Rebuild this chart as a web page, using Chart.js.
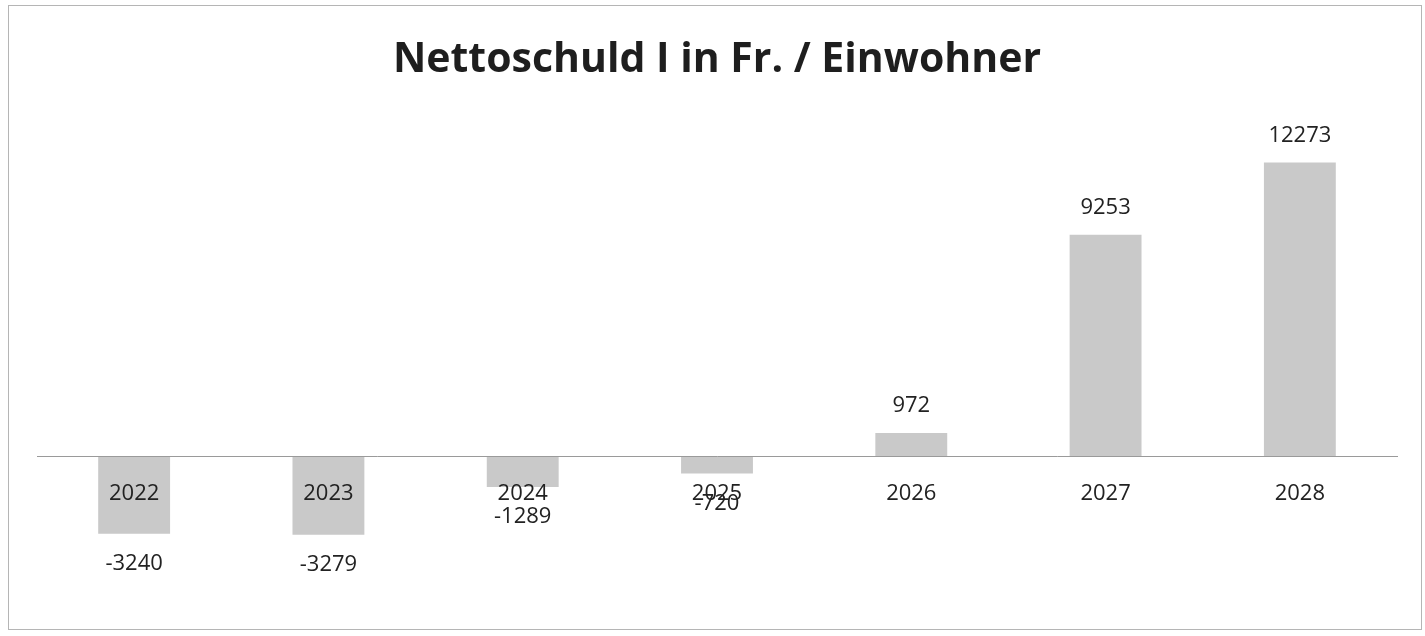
<!DOCTYPE html>
<html>
<head>
<meta charset="utf-8">
<script src="https://cdn.jsdelivr.net/npm/chart.js@4"></script>
<style>
  body { margin: 0; background: #fff; }
  .frame {
    position: absolute;
    left: 8px;
    top: 5px;
    width: 1412px;
    height: 623px;
    border: 1px solid #b5b5b5;
  }
</style>
</head>
<body>
<div class="frame"><canvas id="chart"></canvas></div>
<script>
'use strict'

const title = 'Nettoschuld I in Fr. / Einwohner'
const years = ['2022', '2023', '2024', '2025', '2026', '2027', '2028']
const debtPerResident = [-3240, -3279, -1289, -720, 972, 9253, 12273]

// Excel style labels: above positive bars, below negative ones
const valueLabels = {
  id: 'valueLabels',
  afterDatasetsDraw(chart) {
    const ctx = chart.ctx
    const meta = chart.getDatasetMeta(0)
    ctx.save()
    ctx.font = '22px "Open Sans"'
    ctx.fillStyle = '#222'
    ctx.textAlign = 'center'
    ctx.textBaseline = 'middle'
    meta.data.forEach((bar, i) => {
      const v = debtPerResident[i]
      const y = v < 0 ? bar.y + 30 : bar.y - 27
      ctx.fillText(String(v), bar.x, y)
    })
    ctx.restore()
  },
}

const config = {
  type: 'bar',
  data: {
    labels: years,
    datasets: [
      {
        data: debtPerResident,
        backgroundColor: '#c9c9c9',
        borderWidth: 0,
        barPercentage: 0.37,
        categoryPercentage: 1,
      },
    ],
  },
  options: {
    responsive: true,
    maintainAspectRatio: false,
    animation: false,
    layout: {
      padding: { left: 28, right: 24, top: 0, bottom: 77 },
    },
    plugins: {
      legend: { display: false },
      tooltip: { enabled: false },
      title: {
        display: true,
        text: title,
        color: '#1e1e1e',
        font: { family: '"Open Sans"', size: 41, weight: 'bold', lineHeight: 1.2 },
        padding: { top: 30, bottom: 36 },
      },
    },
    scales: {
      x: {
        position: { y: 0 },
        grid: { display: false, drawTicks: false },
        border: { display: true, color: '#9a9a9a', width: 1, z: 1 },
        ticks: {
          z: 1,
          color: '#222',
          padding: 24,
          font: { family: '"Open Sans"', size: 22 },
        },
      },
      y: {
        display: false,
        min: -4000,
        max: 14000,
      },
    },
  },
  plugins: [valueLabels],
}

const myChart = new Chart(document.getElementById('chart'), config)
</script>
</body>
</html>
